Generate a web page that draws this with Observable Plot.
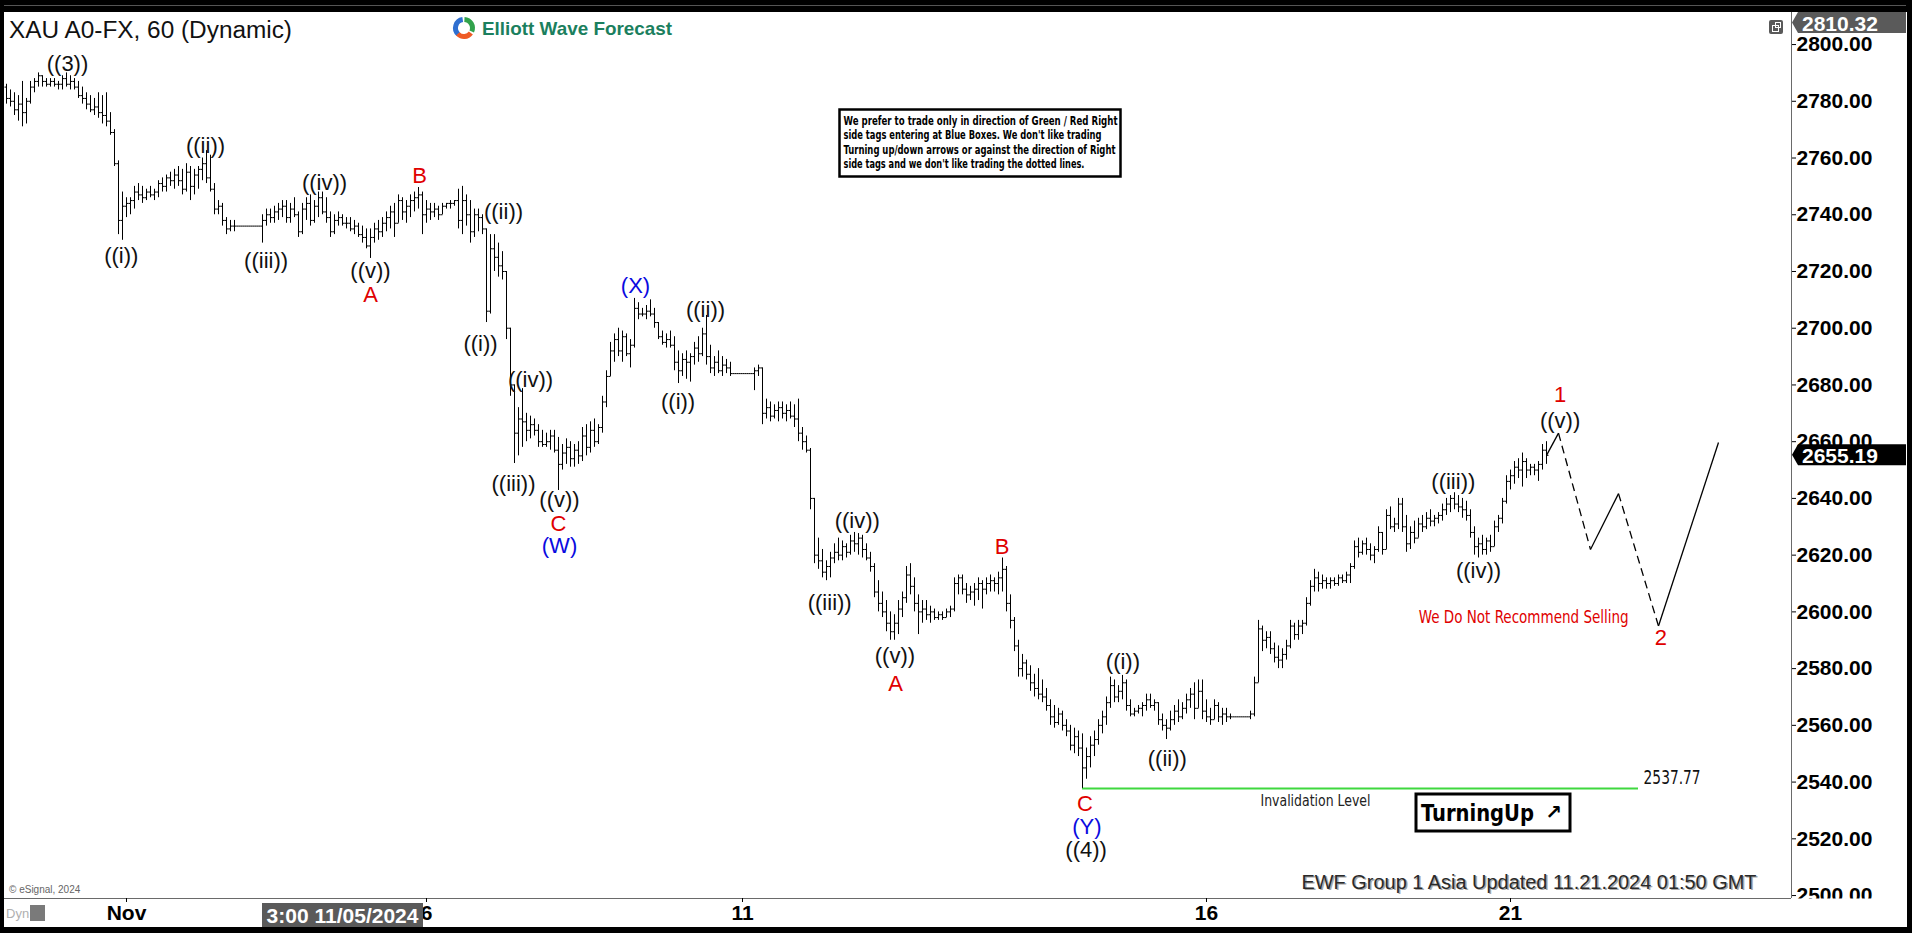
<!DOCTYPE html>
<html>
<head>
<meta charset="utf-8">
<script src="https://cdn.jsdelivr.net/npm/d3@7"></script>
<script src="https://cdn.jsdelivr.net/npm/@observablehq/plot@0.6"></script>
<style>
html, body { margin:0; padding:0; background:#000; overflow:hidden; }
#chart { position:absolute; left:0; top:0; width:1912px; height:933px; }
#chart svg { display:block; }
g[aria-label="y-axis tick label"], g[aria-label="x-axis tick label"] { font-weight:bold; font-size:21px; font-family:"Liberation Sans", Arial, sans-serif; fill:#000; }
</style>
</head>
<body>
<div id="chart"></div>
<script>
// ---------- hourly OHLC bars (XAU A0-FX, 60 min) ----------
const highs = [
2786,2784,2783,2782,2787,2781,2787,2788,2790,2789,
2788,2788,2788,2787,2789,2790,2789,2788,2787,2785,
2783,2782,2781,2783,2782,2783,2776,2770,2759,2748,
2746,2746,2750,2751,2750,2749,2750,2749,2752,2753,
2754,2755,2756,2757,2756,2758,2757,2756,2757,2760,
2762.6,2761,2751,2745,2744,2739,2738,2738,2736,2736,
2736,2736,2736,2736,2740,2742,2742,2743,2744,2745,
2745,2744,2746,2741,2744,2746,2747,2745,2748,2748,
2746,2741,2740,2741,2740,2739,2739,2738,2737,2736,
2735,2735,2737,2738,2739,2741,2743,2744,2747,2746,
2745,2747,2748,2749.6,2748,2745,2744,2744,2743,2744,
2744,2745,2745,2749,2750,2747,2745,2742,2742,2740,
2735,2733,2733,2730,2727,2720,2700,2680,2672,2678.7,
2670,2669,2668,2666,2664,2663,2664,2664,2661.5,2659,
2661,2660,2659,2660,2665,2666,2667,2668,2666,2676,
2685,2695,2698,2700,2699,2698,2696,2710.5,2709,2707,
2708,2710,2707,2702,2699,2698,2699,2697,2692,2691,
2692,2691,2695,2697,2700,2704.5,2694,2690,2692,2690,
2689,2688,2684,2684,2684,2684,2684,2686,2687,2686,
2675,2674,2673,2674,2674,2673,2674,2673,2675,2665,
2662,2657.6,2640,2626,2622,2618,2621,2624,2626,2625,
2624,2627,2628,2627.6,2627,2624,2621,2617,2611,2607,
2604,2600,2599,2604,2607,2616,2617,2612,2606,2604,
2604,2602,2601,2600,2600,2601,2602,2612,2613,2613,
2610,2609,2610,2612,2611,2612,2613,2612,2614,2619,
2616,2606,2598,2590,2585,2583,2581,2578,2580,2576,
2573,2569,2567,2566,2565,2562,2560,2559,2558,2557,
2552,2556,2558,2562,2565,2570,2577,2576,2574,2577.6,
2576,2569,2566,2567,2568,2571,2571,2569,2568,2564,
2562,2565,2567,2569,2568,2571,2573,2575,2576,2576,
2569,2566,2569,2568,2566,2566,2564,2563,2563,2563,
2563,2565,2577,2597,2595,2593,2593,2589,2588,2587,
2590,2597,2596,2597,2597,2605,2611,2615,2614,2613,
2612,2612,2612,2613,2613,2614,2617,2625,2626,2625,
2626,2624,2623,2630,2628,2636,2637,2633,2640,2640,
2634,2630,2632,2633,2634,2635,2636,2634,2635,2638,
2640,2641,2642,2641,2640,2639,2636,2630,2626,2627,
2626,2627,2632,2634,2640,2648,2650,2653,2654,2656,
2654,2652,2652,2653,2659,2660];
const lows = [
2779,2778,2775,2773,2771,2772,2779,2783,2785,2785,
2785,2785,2785,2784,2784,2785,2784,2784,2781,2779,
2777,2776,2775,2774,2772,2771,2768,2757,2733,2731,
2739,2740,2742,2745,2744,2745,2746,2745,2746,2748,
2748,2750,2749,2750,2747,2748,2745,2747,2749,2752,
2751,2748,2740,2740,2736,2733,2734,2734,2736,2736,
2736,2736,2736,2736,2730,2736,2737,2737,2738,2739,
2737,2737,2739,2732,2733,2738,2736,2737,2739,2740,
2737,2732,2733,2736,2736,2735,2734,2733,2732,2730,
2728,2724.6,2730,2731,2732,2734,2735,2732,2737,2738,
2737,2739,2741,2742,2733,2737,2738,2739,2738,2740,
2742,2742,2743,2735,2733,2736,2730,2732,2734,2733,
2702,2705,2720,2718,2717,2696,2676,2652.3,2655,2658,
2660,2661,2662,2658,2658,2658,2657,2656,2642.8,2650,
2652,2651,2651,2652,2653,2655,2656,2658,2659,2663,
2672,2683,2688,2690,2688,2690,2686,2693,2703,2704,
2703,2704,2700,2696,2694,2693,2693,2685,2680.5,2683,
2682,2681,2687,2688,2690,2687,2684,2683,2684,2683,
2684,2683,2684,2684,2684,2684,2684,2678,2683,2666,
2668,2667,2668,2667,2668,2667,2668,2665,2660,2657,
2656,2636,2617,2615,2612,2611,2612,2617,2618,2618,
2619,2620,2621,2620,2619,2618,2614,2605,2600,2598,
2593,2590,2590,2592,2598,2603,2606,2600,2592,2596,
2597,2596,2597,2597,2597,2598,2598,2600,2606,2606,
2603,2604,2602,2604,2601,2606,2607,2607,2606,2607,
2600,2594,2586,2577,2577,2576,2572,2570,2569,2568,
2565,2560,2559,2560,2558,2556,2551,2550,2549,2537.77,
2541,2545,2549,2553,2557,2560,2566,2568,2568,2569,
2565,2563,2563,2564,2563,2565,2566,2565,2560,2558,
2555,2558,2560,2561,2562,2564,2566,2562,2566,2562,
2561,2560,2562,2561,2560,2561,2562,2563,2563,2563,
2563,2562,2563,2575,2586,2587,2585,2582,2580,2580,
2583,2587,2590,2590,2592,2595,2602,2607,2607,2608,
2608,2608,2609,2609,2610,2610,2610,2615,2619,2620,
2620,2618,2617,2621,2620,2622,2629,2628,2629,2628,
2621,2622,2624,2626,2628,2629,2630,2630,2631,2632,
2634,2635,2636,2635,2633,2632,2626,2620,2619,2620,
2620,2621,2623,2628,2631,2638,2643,2645,2647,2644,
2647,2648,2648,2646,2650,2652];
const opens = [
2785,2781,2780,2777,2779,2776,2780,2785,2787,2789,
2787,2786,2787,2786,2786,2788,2786,2787,2785,2782,
2781,2779,2777,2778,2776,2775,2773,2769,2758,2738,
2743,2744,2745,2748,2747,2746,2748,2747,2748,2751,
2750,2753,2752,2754,2752,2749,2755,2750,2754,2756,
2758,2753,2749,2742,2743,2738,2735,2736,2736,2736,
2736,2736,2736,2736,2736,2738,2740,2739,2741,2742,
2743,2739,2742,2740,2734,2742,2744,2738,2743,2746,
2741,2739,2734,2738,2739,2737,2737,2735,2736,2733,
2732,2729,2732,2735,2734,2737,2739,2741,2737,2745,
2741,2743,2745,2746,2747,2740,2742,2741,2742,2740,
2743,2744,2744,2745,2738,2745,2740,2734,2740,2739,
2735,2706,2728,2725,2722,2720,2700,2680,2663,2668,
2667,2664,2666,2664,2660,2659,2660,2662,2657,2652,
2656,2658,2654,2657,2655,2662,2658,2664,2660,2665,
2674,2683,2692,2696,2692,2697,2691,2694,2707,2705,
2705,2706,2705,2702,2697,2695,2696,2694,2688,2685,
2689,2688,2690,2693,2691,2698,2690,2686,2688,2685,
2687,2686,2684,2684,2684,2684,2684,2684,2685,2686,
2670,2672,2669,2671,2672,2670,2671,2669,2668,2663,
2660,2657,2640,2620,2618,2614,2616,2619,2621,2620,
2623,2621,2625,2624,2626,2622,2619,2616,2607,2603,
2600,2596,2593,2596,2601,2605,2613,2609,2603,2600,
2601,2599,2600,2598,2599,2598,2600,2601,2610,2612,
2608,2606,2607,2608,2610,2608,2610,2611,2610,2612,
2615,2603,2597,2588,2580,2582,2578,2575,2573,2571,
2570,2567,2563,2561,2564,2560,2558,2553,2556,2552,
2545,2549,2553,2555,2560,2563,2568,2574,2570,2572,
2575,2567,2564,2565,2566,2567,2569,2567,2568,2562,
2560,2559,2562,2565,2563,2566,2569,2571,2566,2572,
2565,2563,2562,2567,2563,2564,2563,2563,2563,2563,
2563,2563,2564,2575,2594,2590,2591,2587,2584,2583,
2585,2588,2595,2592,2595,2596,2603,2609,2612,2610,
2611,2610,2611,2610,2612,2611,2613,2616,2623,2621,
2624,2622,2620,2622,2628,2622,2634,2630,2631,2638,
2630,2624,2628,2626,2631,2630,2633,2632,2633,2634,
2636,2638,2640,2638,2637,2636,2634,2628,2623,2624,
2622,2625,2623,2630,2633,2639,2646,2648,2651,2650,
2653,2650,2651,2650,2652,2657];
const closes = [
2781,2780,2777,2779,2776,2780,2785,2787,2789,2787,
2786,2787,2786,2786,2788,2786,2787,2785,2782,2781,
2779,2777,2778,2776,2775,2773,2769,2758,2738,2743,
2744,2745,2748,2747,2746,2748,2747,2748,2751,2750,
2753,2752,2754,2752,2749,2755,2750,2754,2756,2758,
2753,2749,2742,2743,2738,2735,2736,2736,2736,2736,
2736,2736,2736,2736,2738,2740,2739,2741,2742,2743,
2739,2742,2740,2734,2742,2744,2738,2743,2746,2741,
2739,2734,2738,2739,2737,2737,2735,2736,2733,2732,
2729,2732,2735,2734,2737,2739,2741,2737,2745,2741,
2743,2745,2746,2747,2740,2742,2741,2742,2740,2743,
2744,2744,2745,2738,2745,2740,2734,2740,2739,2735,
2706,2728,2725,2722,2720,2700,2680,2663,2668,2667,
2664,2666,2664,2660,2659,2660,2662,2657,2652,2656,
2658,2654,2657,2655,2662,2658,2664,2660,2665,2674,
2683,2692,2696,2692,2697,2691,2694,2707,2705,2705,
2706,2705,2702,2697,2695,2696,2694,2688,2685,2689,
2688,2690,2693,2691,2698,2690,2686,2688,2685,2687,
2686,2684,2684,2684,2684,2684,2684,2685,2686,2670,
2672,2669,2671,2672,2670,2671,2669,2668,2663,2660,
2657,2640,2620,2618,2614,2616,2619,2621,2620,2623,
2621,2625,2624,2626,2622,2619,2616,2607,2603,2600,
2596,2593,2596,2601,2605,2613,2609,2603,2600,2601,
2599,2600,2598,2599,2598,2600,2601,2610,2612,2608,
2606,2607,2608,2610,2608,2610,2611,2610,2612,2615,
2603,2597,2588,2580,2582,2578,2575,2573,2571,2570,
2567,2563,2561,2564,2560,2558,2553,2556,2552,2545,
2549,2553,2555,2560,2563,2568,2574,2570,2572,2575,
2567,2564,2565,2566,2567,2569,2567,2568,2562,2560,
2559,2562,2565,2563,2566,2569,2571,2566,2572,2565,
2563,2562,2567,2563,2564,2563,2563,2563,2563,2563,
2563,2564,2575,2594,2590,2591,2587,2584,2583,2585,
2588,2595,2592,2595,2596,2603,2609,2612,2610,2611,
2610,2611,2610,2612,2611,2613,2616,2623,2621,2624,
2622,2620,2622,2628,2622,2634,2630,2631,2638,2630,
2624,2628,2626,2631,2630,2633,2632,2633,2634,2636,
2638,2640,2638,2637,2636,2634,2628,2623,2624,2622,
2625,2623,2630,2633,2639,2646,2648,2651,2650,2653,
2650,2651,2650,2652,2657,2655.19];

// ---------- axes ----------
const xTickIdx    = [30, 105, 184, 300, 376];
const xTickLabels = ["Nov", "6", "11", "16", "21"];
const yTicks = [2500, 2520, 2540, 2560, 2580, 2600, 2620, 2640, 2660, 2680, 2700, 2720, 2740, 2760, 2780, 2800];
const xDomain = [-0.5, 446.25];
const yDomain = [2498.96, 2811.3];

// ---------- Elliott wave labels (text, bar index, price, degree colour) ----------
const waveText  = ["((3))","((i))","((ii))","((iii))","((iv))","((v))","A","B","((ii))","((i))","((iv))","((iii))","((v))","C","(W)","(X)","((ii))","((i))","((iv))","((iii))","B","((v))","A","((i))","((ii))","C","(Y)","((4))","((iii))","((iv))","1","((v))","2"];
const waveIdx   = [15.25,28.7,49.75,64.9,79.5,91,91,103.3,124.25,118.5,131,126.75,138.25,138,138.25,157.25,174.75,167.9,212.7,205.8,248.9,222.1,222.3,279.1,290.2,269.6,270.1,269.9,361.7,368,388.4,388.4,413.6];
const wavePrice = [2793.2,2725.3,2764.4,2723.6,2751.2,2720.2,2711.8,2753.8,2740.9,2694.5,2681.6,2645.1,2639.3,2630.9,2623.3,2715.0,2706.5,2673.9,2632.0,2603.1,2622.8,2584.6,2574.6,2582.3,2548.2,2532.2,2524.3,2516.2,2645.7,2614.3,2676.3,2667.4,2590.8];
const waveKind  = ["k","k","k","k","k","k","r","r","k","k","k","k","k","r","b","b","k","k","k","k","r","k","r","k","k","r","b","k","k","k","r","k","r"];

// ---------- projected path after wave 1 (bar index, price) ----------
const projIdx   = [385, 388, 396, 403, 413, 428];
const projPrice = [2655.19, 2663.0, 2622.0, 2641.7, 2595.0, 2659.7];

// ---------- levels ----------
const invalidLevel = 2537.77;
const invalidFrom = 269, invalidTo = 408;
const lastPrice = 2655.19;
const highTag = 2810.32;

// ---------- build ----------
const bars = highs.map((h, i) => ({i, h, l: lows[i], o: opens[i], c: closes[i]}));
const waves = waveText.map((t, k) => ({t, i: waveIdx[k], p: wavePrice[k], kind: waveKind[k]}));
const kindColor = {k: "#111111", r: "#e00000", b: "#0a0ae0"};
const projPts = projIdx.map((x, k) => ({x, y: projPrice[k]}));
const projSegs = d3.pairs(projPts).map(([a, b], k) => ({x1: a.x, y1: a.y, x2: b.x, y2: b.y, dashed: k % 2 === 1}));

const FONT = "'Liberation Sans', Arial, sans-serif";
const NARROW = "'Liberation Sans Narrow', 'DejaVu Sans Condensed', Arial, sans-serif";

const plot = Plot.plot({
  width: 1912, height: 933,
  marginLeft: 4, marginRight: 121, marginTop: 12, marginBottom: 35,
  style: {background: "white", fontFamily: FONT},
  x: {domain: xDomain},
  y: {domain: yDomain},
  marks: [
    Plot.ruleY([yDomain[0]], {stroke: "#6a6a6a"}),
    Plot.ruleX([xDomain[1]], {stroke: "#6a6a6a"}),
    Plot.axisY({anchor: "right", ticks: yTicks, tickFormat: d => d.toFixed(2), tickSize: 4, tickPadding: 1, textAnchor: "start", fontSize: 21, fontWeight: "bold", fill: "#000"}),
    Plot.axisX({anchor: "bottom", ticks: xTickIdx, tickFormat: d => xTickLabels[xTickIdx.indexOf(d)], tickSize: 4, tickPadding: 3, fontSize: 21, fontWeight: "bold", fill: "#000"}),
    Plot.ruleY([invalidLevel], {x1: invalidFrom, x2: invalidTo, stroke: "#3fd83f", strokeWidth: 2}),
    Plot.ruleX(bars, {x: "i", y1: "l", y2: "h", stroke: "#000", strokeWidth: 1}),
    Plot.link(bars, {x1: d => d.i - 0.5, x2: "i", y1: "o", y2: "o", stroke: "#000", strokeWidth: 1}),
    Plot.link(bars, {x1: "i", x2: d => d.i + 0.5, y1: "c", y2: "c", stroke: "#000", strokeWidth: 1}),
    Plot.link(projSegs.filter(d => !d.dashed), {x1: "x1", y1: "y1", x2: "x2", y2: "y2", stroke: "#000", strokeWidth: 1.3}),
    Plot.link(projSegs.filter(d => d.dashed), {x1: "x1", y1: "y1", x2: "x2", y2: "y2", stroke: "#000", strokeWidth: 1.3, strokeDasharray: "8,5"}),
    Plot.text(waves, {x: "i", y: "p", text: "t", fill: d => kindColor[d.kind], fontSize: 22, fontFamily: FONT, textAnchor: "middle"}),
    Plot.text(["We Do Not Recommend Selling"], {x: 379.3, y: 2598.1, text: d => d, fill: "#e00000", fontSize: 18.5, fontFamily: NARROW}),
    Plot.text(["Invalidation Level"], {x: 327.25, y: 2533.2, text: d => d, fill: "#222", fontSize: 15, fontFamily: NARROW}),
    Plot.text([invalidLevel], {x: 416.4, y: 2541.3, text: d => d.toFixed(2), fill: "#111", fontSize: 19, fontFamily: NARROW})
  ]
});
document.getElementById("chart").appendChild(plot);

// ---------- decorations ----------
const svg = d3.select(plot);
const ys = plot.scale("y");
function txt(x, y, s, o = {}) {
  const t = svg.append("text").attr("x", x).attr("y", y).text(s)
    .attr("font-family", o.family || FONT).attr("font-size", o.size || 12)
    .attr("font-weight", o.weight || "normal").attr("fill", o.fill || "#000")
    .attr("text-anchor", o.anchor || "start").attr("dominant-baseline", "central");
  if (o.len) t.attr("textLength", o.len).attr("lengthAdjust", "spacingAndGlyphs");
  return t;
}
// fit the text marks that need exact widths
svg.selectAll("text").each(function() {
  const s = this.textContent;
  if (s === "We Do Not Recommend Selling") d3.select(this).attr("textLength", 210).attr("lengthAdjust", "spacingAndGlyphs");
  if (s === "Invalidation Level") d3.select(this).attr("textLength", 110).attr("lengthAdjust", "spacingAndGlyphs");
  if (s === "2537.77") d3.select(this).attr("textLength", 57).attr("lengthAdjust", "spacingAndGlyphs");
});

// white strip clipping the bottom y label
svg.append("rect").attr("x", 1792).attr("y", 898.5).attr("width", 115).attr("height", 30).attr("fill", "white");

// price tags
function tag(yc, label, fill) {
  svg.append("path").attr("d", `M1792,${yc} L1798,${yc - 10.5} L1906,${yc - 10.5} L1906,${yc + 10.5} L1798,${yc + 10.5} Z`).attr("fill", fill);
  txt(1802, yc + 0.5, label, {size: 21, weight: "bold", fill: "#fff"});
}
tag(Math.max(ys.apply(highTag), 22.5), highTag.toFixed(2), "#5a5a5a");
tag(ys.apply(lastPrice), lastPrice.toFixed(2), "#000");

// frame borders
svg.append("rect").attr("x", 0).attr("y", 0).attr("width", 1912).attr("height", 12).attr("fill", "#000");
svg.append("line").attr("x1", 4).attr("x2", 1906).attr("y1", 5.5).attr("y2", 5.5).attr("stroke", "#555");
svg.append("rect").attr("x", 0).attr("y", 0).attr("width", 4).attr("height", 933).attr("fill", "#000");
svg.append("rect").attr("x", 1907).attr("y", 0).attr("width", 5).attr("height", 933).attr("fill", "#000");
svg.append("rect").attr("x", 0).attr("y", 927).attr("width", 1912).attr("height", 6).attr("fill", "#000");

// title and logo
txt(9, 30, "XAU A0-FX, 60 (Dynamic)", {size: 23, fill: "#111", len: 283});
const arc = d3.arc();
const logo = svg.append("g").attr("transform", "translate(464,28)");
logo.append("path").attr("d", arc({innerRadius: 6, outerRadius: 11, startAngle: -2.4, endAngle: -0.15})).attr("fill", "#2f6fd0");
logo.append("path").attr("d", arc({innerRadius: 6, outerRadius: 11, startAngle: 0.05, endAngle: 2.0})).attr("fill", "#31a24c");
logo.append("path").attr("d", arc({innerRadius: 6, outerRadius: 11, startAngle: 2.2, endAngle: 3.95})).attr("fill", "#ee5a24");
txt(482, 28, "Elliott Wave Forecast", {size: 18.5, weight: "bold", fill: "#1b7f5e", len: 190});

// top-right small icon
svg.append("rect").attr("x", 1769).attr("y", 20).attr("width", 14).attr("height", 14).attr("rx", 2).attr("fill", "#5a5a5a");
svg.append("rect").attr("x", 1772.5).attr("y", 25.5).attr("width", 6).attr("height", 6).attr("fill", "none").attr("stroke", "#fff");
svg.append("rect").attr("x", 1775.5).attr("y", 22.5).attr("width", 5).attr("height", 5).attr("fill", "none").attr("stroke", "#fff");

// disclaimer box
svg.append("rect").attr("x", 839.5).attr("y", 109.5).attr("width", 281).attr("height", 67).attr("fill", "#fff").attr("stroke", "#000").attr("stroke-width", 2.5);
const discl = [
  ["We prefer to trade only in direction of Green / Red Right", 274],
  ["side tags entering at Blue Boxes. We don't like trading", 258],
  ["Turning up/down arrows or against the direction of Right", 272],
  ["side tags and we don't like trading the dotted lines.", 241]
];
discl.forEach(([s, w], k) => txt(843.5, 120.5 + k * 14.6, s, {size: 11.5, weight: "bold", family: NARROW, fill: "#000", len: w}));

// TurningUp box
svg.append("rect").attr("x", 1416).attr("y", 794).attr("width", 154).attr("height", 37).attr("fill", "#fff").attr("stroke", "#000").attr("stroke-width", 3);
txt(1421, 812.5, "TurningUp", {size: 23, weight: "bold", family: NARROW, len: 113});
txt(1554, 811.5, "↗", {size: 20, weight: "bold", family: "'DejaVu Sans', sans-serif", anchor: "middle"});

// footer
txt(1303, 883, "EWF Group 1 Asia Updated 11.21.2024 01:50 GMT", {size: 20, fill: "#a8a8a8", len: 455});
txt(1301.5, 881.5, "EWF Group 1 Asia Updated 11.21.2024 01:50 GMT", {size: 20, fill: "#2a2a2a", len: 455});
txt(9, 889, "© eSignal, 2024", {size: 10, fill: "#666"});

// bottom status items
svg.append("rect").attr("x", 262).attr("y", 903).attr("width", 161).attr("height", 24).attr("fill", "#5a5a5a");
txt(342.5, 915.5, "3:00 11/05/2024", {size: 21, weight: "bold", fill: "#fff", anchor: "middle", len: 152});
txt(6, 913, "Dyn", {size: 13, fill: "#b0b0b0"});
svg.append("rect").attr("x", 30).attr("y", 905).attr("width", 15).attr("height", 16).attr("fill", "#7a7a7a");
</script>
</body>
</html>
